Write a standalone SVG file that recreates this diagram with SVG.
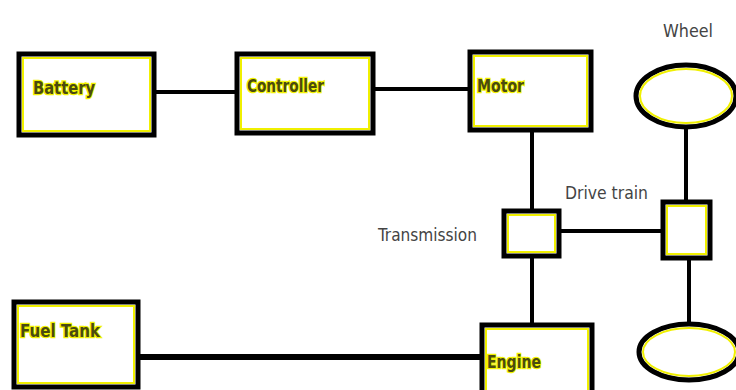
<svg xmlns="http://www.w3.org/2000/svg" width="736" height="390" viewBox="0 0 736 390">
<style>
.box{fill:#fff;stroke:#000;stroke-width:5}
.inner{fill:none;stroke:#f0f000;stroke-width:2}
.ln{stroke:#000;stroke-width:4;fill:none}
.lbl{font-family:"DejaVu Sans Condensed","Liberation Sans",sans-serif;font-weight:bold;font-size:18px;fill:#4a4a10;stroke:#f2f200;stroke-width:2.5;paint-order:stroke}
.gray{font-family:"DejaVu Sans Condensed","Liberation Sans",sans-serif;font-size:17px;fill:#444}
</style>
<rect width="736" height="390" fill="#fff"/>
<g id="connectors">
<line class="ln" x1="154" y1="92" x2="237" y2="92"/>
<line class="ln" x1="373" y1="89" x2="471" y2="89"/>
<line class="ln" x1="532" y1="130" x2="532" y2="211"/>
<line class="ln" x1="686" y1="127" x2="686" y2="202"/>
<line class="ln" x1="559" y1="231" x2="663" y2="231"/>
<line class="ln" x1="532" y1="256" x2="532" y2="325"/>
<line class="ln" x1="689" y1="258" x2="689" y2="324"/>
<line class="ln" x1="138" y1="357" x2="482" y2="357" style="stroke-width:6"/>
</g>
<g id="battery">
<rect class="box" x="19" y="54" width="135" height="81"/>
<rect class="inner" x="23" y="58" width="127" height="73"/>
<text class="lbl" x="33" y="94" textLength="62" lengthAdjust="spacingAndGlyphs">Battery</text>
</g>
<g id="controller">
<rect class="box" x="237" y="54" width="136" height="79"/>
<rect class="inner" x="241" y="58" width="128" height="71"/>
<text class="lbl" x="247" y="92" textLength="77" lengthAdjust="spacingAndGlyphs">Controller</text>
</g>
<g id="motor">
<rect class="box" x="470" y="52" width="121" height="78"/>
<rect class="inner" x="474" y="56" width="113" height="70"/>
<text class="lbl" x="477" y="92" textLength="47" lengthAdjust="spacingAndGlyphs">Motor</text>
</g>
<g id="wheel-top">
<ellipse cx="686" cy="96" rx="50" ry="31" fill="#fff" stroke="#000" stroke-width="5"/>
<ellipse cx="686" cy="96" rx="46" ry="27" fill="none" stroke="#f0f000" stroke-width="2"/>
<text class="gray" x="663" y="37" textLength="50" lengthAdjust="spacingAndGlyphs">Wheel</text>
</g>
<g id="transmission">
<rect class="box" x="504" y="211" width="55" height="45"/>
<rect class="inner" x="508" y="215" width="47" height="37"/>
<text class="gray" x="378" y="241" textLength="99" lengthAdjust="spacingAndGlyphs">Transmission</text>
</g>
<g id="drive-train">
<rect class="box" x="663" y="202" width="47" height="56"/>
<rect class="inner" x="667" y="206" width="39" height="48"/>
<text class="gray" x="565" y="199" textLength="83" lengthAdjust="spacingAndGlyphs">Drive train</text>
</g>
<g id="wheel-bottom">
<ellipse cx="689" cy="352" rx="50" ry="28" fill="#fff" stroke="#000" stroke-width="5"/>
<ellipse cx="689" cy="352" rx="46" ry="24" fill="none" stroke="#f0f000" stroke-width="2"/>
</g>
<g id="fuel-tank">
<rect class="box" x="14" y="302" width="124" height="85"/>
<rect class="inner" x="18" y="306" width="116" height="77"/>
<text class="lbl" x="20" y="337" textLength="80" lengthAdjust="spacingAndGlyphs">Fuel Tank</text>
</g>
<g id="engine">
<rect class="box" x="482" y="325" width="110" height="70"/>
<rect class="inner" x="486" y="329" width="102" height="62"/>
<text class="lbl" x="487" y="368" textLength="54" lengthAdjust="spacingAndGlyphs">Engine</text>
</g>
</svg>
